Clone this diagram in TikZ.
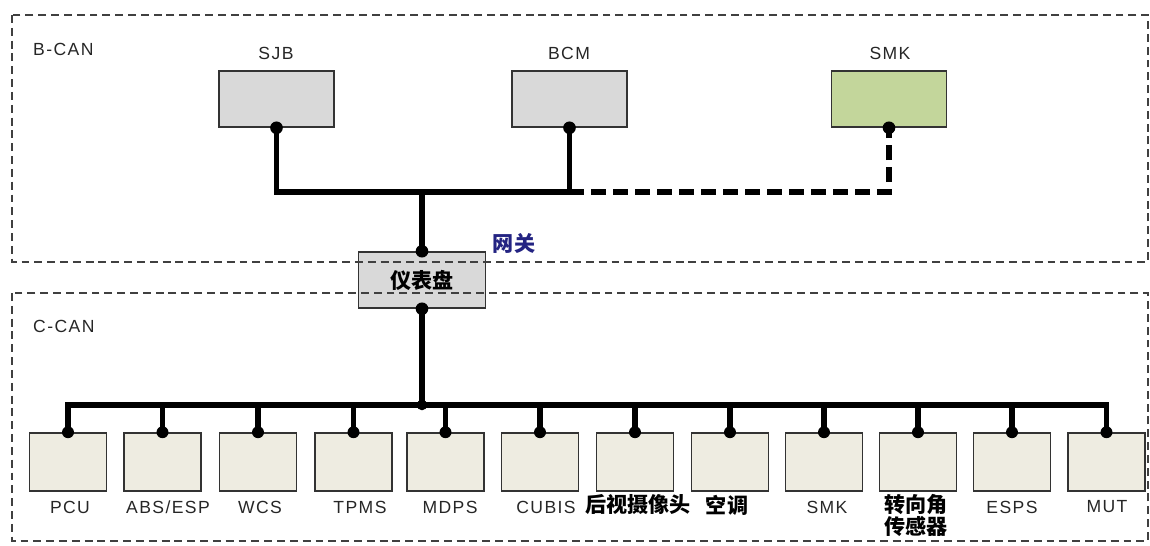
\documentclass[tikz,border=0pt]{standalone}
\usepackage{fontspec}
\setmainfont{Liberation Sans}[LetterSpace=8]
\newfontfamily\cjk{Noto Sans CJK SC}
\definecolor{ecugray}{HTML}{D9D9D9}
\definecolor{ecugreen}{HTML}{C3D69B}
\definecolor{ecutan}{HTML}{EEECE1}
\definecolor{gwblue}{RGB}{35,35,130}
\tikzset{
  frame/.style={draw=black!75,line width=0.75pt,dash pattern=on 4.5pt off 2.8pt},
  bus/.style={line width=3.3pt},
  busdash/.style={line width=3.3pt,dash pattern=on 8.5pt off 4pt},
  topecu/.style={rectangle,draw=black!80,line width=0.9pt,minimum width=2.3cm,minimum height=1.12cm},
  ecu/.style={rectangle,draw=black!80,line width=0.9pt,minimum width=1.54cm,minimum height=1.16cm,fill=ecutan},
  cntxt/.style={font=\cjk\bfseries\fontsize{12}{12.5}\selectfont},
}
\begin{document}
\begin{tikzpicture}[x=0.02cm,y=-0.02cm]
\useasboundingbox (0,0) rectangle (1150,545);

% B-CAN
\node[topecu,fill=ecugray] (SJB) at (276.5,99) {};
\node[topecu,fill=ecugray] (BCM) at (569.5,99) {};
\node[topecu,fill=ecugreen] (SMKb) at (889,99) {};
\node[topecu,fill=ecugray,minimum width=2.54cm] (Gateway) at (422,280) {\cjk\bfseries\fontsize{12}{12}\selectfont 仪表盘};

% C-CAN
\begin{scope}[every node/.style={ecu}]
\node (PCU) at (68,462) {};
\node (ABS) at (162.5,462) {};
\node (WCS) at (258,462) {};
\node (TPMS) at (353.5,462) {};
\node (MDPS) at (445.5,462) {};
\node (CUBIS) at (540,462) {};
\node (Camera) at (635,462) {};
\node (AirCon) at (730,462) {};
\node (SMKc) at (824,462) {};
\node (SAS) at (918,462) {};
\node (ESPS) at (1012,462) {};
\node (MUT) at (1106.5,462) {};
\end{scope}

% labels
\begin{scope}[every node/.style={font=\fontsize{10}{12}\selectfont,text=black!85}]
\node[anchor=west] (BCANt) at (27,49) {B-CAN};
\node[anchor=west] (CCANt) at (27,326) {C-CAN};
\node (SJBt) at (276,53) {SJB};
\node (BCMt) at (569,53) {BCM};
\node (SMKbt) at (890,53) {SMK};
\node (PCUt) at (70,507) {PCU};
\node (ABSt) at (168,507) {ABS/ESP};
\node (WCSt) at (260,507) {WCS};
\node (TPMSt) at (360,507) {TPMS};
\node (MDPSt) at (450,507) {MDPS};
\node (CUBISt) at (546,507) {CUBIS};
\node (SMKct) at (827,507) {SMK};
\node (ESPSt) at (1012,507) {ESPS};
\node (MUTt) at (1107,507) {MUT};
\end{scope}
\node[cntxt] (Camerat) at (638,505) {后视摄像头};
\node[cntxt] (AirCont) at (727,505) {空调};
\node[cntxt,align=center] (SASt) at (916,515) {转向角\\传感器};
\node[cntxt,text=gwblue] (GWt) at (514,243) {网关};

% buses
\coordinate (tbus) at (422,192);
\coordinate (cbus) at (422,405);
\draw[bus] (SJB.south) |- (BCM.south |- tbus) -- (BCM.south);
\draw[bus] (tbus) -- (Gateway.north);
\draw[busdash] (BCM.south |- tbus) -| (SMKb.south);
\draw[bus] (Gateway.south) -- (cbus);
\draw[bus] (PCU.north) |- (cbus) -| (MUT.north);
\foreach \n in {ABS,WCS,TPMS,MDPS,CUBIS,Camera,AirCon,SMKc,SAS,ESPS}
  \draw[bus] (\n.north) -- (\n.north |- cbus);

% dots
\foreach \n in {SJB,BCM,SMKb,Gateway}
  \fill (\n.south) circle (3.6pt);
\fill (Gateway.north) circle (3.6pt);
\fill (cbus) circle (3pt);
\foreach \n in {PCU,ABS,WCS,TPMS,MDPS,CUBIS,Camera,AirCon,SMKc,SAS,ESPS,MUT}
  \fill (\n.north) circle (3.4pt);

% CAN frames
\draw[frame] (12,15) rectangle (1148,262);
\draw[frame] (12,293) rectangle (1148,541);
\end{tikzpicture}
\end{document}
